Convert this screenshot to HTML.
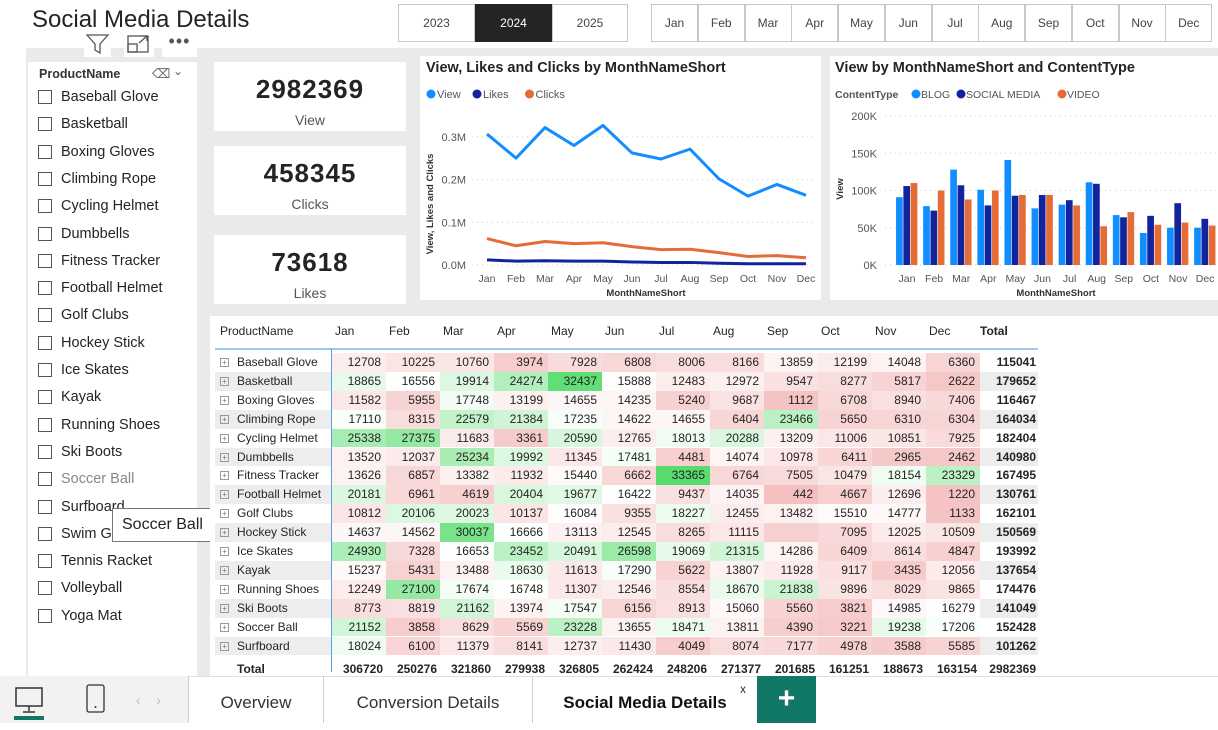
<!DOCTYPE html>
<html><head><meta charset="utf-8">
<style>
*{box-sizing:border-box;margin:0;padding:0}
body{width:1218px;height:723px;position:relative;overflow:hidden;background:#fff;font-family:"Liberation Sans",sans-serif;color:#252423}
.abs{position:absolute}
.btn{position:absolute;top:4px;height:38px;border:1px solid #c8c8c8;background:#fff;font-size:12px;color:#444;display:flex;align-items:center;justify-content:center}
.card{position:absolute;background:#fff}
.slitem{position:absolute;left:10px;font-size:14.5px;color:#252423;display:flex;align-items:center}
.slitem span.cb{width:14px;height:14px;border:1px solid #555;margin-right:9px;display:inline-block}
.kpi{font-size:26px;font-weight:bold;letter-spacing:1px;text-align:center;width:100%;position:absolute;top:12px;color:#252423}
.kpil{font-size:14px;color:#555;text-align:center;width:100%;position:absolute;top:50px}
</style></head><body>
<div class="abs" style="left:26px;top:48px;width:1192px;height:628px;background:#eaeaea"></div>
<div class="abs" style="left:32px;top:6px;font-size:24px;color:#252423">Social Media Details</div>

<div class="btn" style="left:398px;width:77px">2023</div>
<div class="btn" style="left:475px;width:77px;background:#252423;color:#fff;border-color:#252423">2024</div>
<div class="btn" style="left:552px;width:76px">2025</div>
<div id="months"></div>

<div class="abs" style="left:84px;top:31px;width:27px;height:26px;background:#fff">
<svg width="27" height="26"><path d="M3 4 H24 L16 13 V22 L11 19 V13 Z" fill="none" stroke="#555" stroke-width="1.3"/></svg></div>
<div class="abs" style="left:124px;top:31px;width:30px;height:26px;background:#fff">
<svg width="30" height="26"><rect x="4" y="5" width="20" height="16" fill="none" stroke="#555" stroke-width="1.3"/><rect x="4" y="13" width="9" height="8" fill="none" stroke="#555" stroke-width="1.3"/><path d="M15 12 L23 5 M18 5 H23 V10" fill="none" stroke="#555" stroke-width="1.3"/></svg></div>
<div class="abs" style="left:162px;top:31px;width:35px;height:26px;background:#fff;font-size:18px;color:#555;text-align:center;line-height:20px;letter-spacing:1px">•••</div>

<div class="card" style="left:28px;top:62px;width:169px;height:614px">
<div class="abs" style="left:11px;top:5px;font-size:12.5px;font-weight:bold;color:#333">ProductName</div>
<div class="abs" style="left:124px;top:4px;font-size:13px;color:#666">⌫</div>
<div class="abs" style="left:145px;top:2px;font-size:12px;color:#666">⌄</div>
<div id="slitems"></div>
</div>
<div class="abs" style="left:112px;top:508px;width:108px;height:34px;background:#fff;border:1px solid #777;font-size:16px;line-height:32px;padding-left:9px;color:#252423">Soccer Ball</div>

<div class="card" style="left:214px;top:62px;width:192px;height:69px"><div class="kpi">2982369</div><div class="kpil" style="top:50px">View</div></div>
<div class="card" style="left:214px;top:146px;width:192px;height:69px"><div class="kpi">458345</div><div class="kpil">Clicks</div></div>
<div class="card" style="left:214px;top:235px;width:192px;height:69px"><div class="kpi">73618</div><div class="kpil">Likes</div></div>

<div class="card" style="left:420px;top:56px;width:401px;height:244px">
<svg id="line" width="401" height="244"></svg></div>
<div class="card" style="left:830px;top:56px;width:388px;height:244px">
<svg id="bar" width="388" height="244"></svg></div>

<div class="card" style="left:210px;top:316px;width:1008px;height:360px">
<div id="matrix" class="abs" style="left:5px;top:4px"></div></div>

<div class="abs" style="left:0;top:676px;width:1218px;height:47px;background:#fff;border-top:1px solid #e1dfdd"></div>
<div class="abs" style="left:0;top:676px;width:188px;height:47px;background:#f3f2f1"></div>
<div class="abs" style="left:14px;top:686px"><svg width="30" height="34"><rect x="2" y="2" width="26" height="18" fill="none" stroke="#333" stroke-width="1.5"/><path d="M15 20 V25 M9 26 H21" stroke="#333" stroke-width="1.5"/><rect x="-1" y="30" width="34" height="4" rx="2" fill="#117865"/></svg></div>
<div class="abs" style="left:86px;top:684px"><svg width="20" height="30"><rect x="1" y="1" width="17" height="27" rx="2" fill="none" stroke="#333" stroke-width="1.3"/><circle cx="9.5" cy="23" r="1" fill="#333"/></svg></div>
<div class="abs" style="left:136px;top:692px;color:#bbb;font-size:14px">‹&nbsp;&nbsp;&nbsp;&nbsp;›</div>
<div class="abs" style="left:188px;top:676px;width:135px;height:47px;border-left:1px solid #d0d0d0;font-size:17px;text-align:center;line-height:54px;color:#333">Overview</div>
<div class="abs" style="left:323px;top:676px;width:209px;height:47px;border-left:1px solid #d0d0d0;font-size:17px;text-align:center;line-height:54px;color:#333">Conversion Details</div>
<div class="abs" style="left:532px;top:676px;width:225px;height:47px;border-left:1px solid #d0d0d0;font-size:17px;text-align:center;line-height:54px;color:#111;font-weight:bold">Social Media Details</div>
<div class="abs" style="left:740px;top:682px;font-size:12px;color:#333">x</div>
<div class="abs" style="left:757px;top:676px;width:59px;height:47px;background:#117865;color:#fff;font-size:30px;font-weight:bold;text-align:center;line-height:46px">+</div>

<script>
const NS='http://www.w3.org/2000/svg';
const months=['Jan','Feb','Mar','Apr','May','Jun','Jul','Aug','Sep','Oct','Nov','Dec'];
const products=['Baseball Glove','Basketball','Boxing Gloves','Climbing Rope','Cycling Helmet','Dumbbells','Fitness Tracker','Football Helmet','Golf Clubs','Hockey Stick','Ice Skates','Kayak','Running Shoes','Ski Boots','Soccer Ball','Surfboard','Swim Goggles','Tennis Racket','Volleyball','Yoga Mat'];
const viewSeries=[306720,250276,321860,279938,326805,262424,248206,271377,201685,161251,188673,163154];
const clicksSeries=[62000,45000,55000,50000,52000,43000,36000,37000,29000,20000,22000,17000];
const likesSeries=[12000,9000,10000,9000,9000,7000,6000,6000,4000,3000,3000,3000];
const lineTicks=['0.0M','0.1M','0.2M','0.3M'];
const blogViews=[91000,79000,128000,101000,141000,76000,81000,111000,67000,43000,50000,50000];
const socialViews=[106000,73000,107000,80000,93000,94000,87000,109000,64000,66000,83000,62000];
const videoViews=[110000,100000,88000,100000,94000,94000,80000,52000,71000,54000,57000,53000];
const barTicks=['0K','50K','100K','150K','200K'];
const tableRows=['Baseball Glove','Basketball','Boxing Gloves','Climbing Rope','Cycling Helmet','Dumbbells','Fitness Tracker','Football Helmet','Golf Clubs','Hockey Stick','Ice Skates','Kayak','Running Shoes','Ski Boots','Soccer Ball','Surfboard'];
const tableValues=[
[12708,10225,10760,3974,7928,6808,8006,8166,13859,12199,14048,6360],
[18865,16556,19914,24274,32437,15888,12483,12972,9547,8277,5817,2622],
[11582,5955,17748,13199,14655,14235,5240,9687,1112,6708,8940,7406],
[17110,8315,22579,21384,17235,14622,14655,6404,23466,5650,6310,6304],
[25338,27375,11683,3361,20590,12765,18013,20288,13209,11006,10851,7925],
[13520,12037,25234,19992,11345,17481,4481,14074,10978,6411,2965,2462],
[13626,6857,13382,11932,15440,6662,33365,6764,7505,10479,18154,23329],
[20181,6961,4619,20404,19677,16422,9437,14035,442,4667,12696,1220],
[10812,20106,20023,10137,16084,9355,18227,12455,13482,15510,14777,1133],
[14637,14562,30037,16666,13113,12545,8265,11115,null,7095,12025,10509],
[24930,7328,16653,23452,20491,26598,19069,21315,14286,6409,8614,4847],
[15237,5431,13488,18630,11613,17290,5622,13807,11928,9117,3435,12056],
[12249,27100,17674,16748,11307,12546,8554,18670,21838,9896,8029,9865],
[8773,8819,21162,13974,17547,6156,8913,15060,5560,3821,14985,16279],
[21152,3858,8629,5569,23228,13655,18471,13811,4390,3221,19238,17206],
[18024,6100,11379,8141,12737,11430,4049,8074,7177,4978,3588,5585]];
const rowTotals=[115041,179652,116467,164034,182404,140980,167495,130761,162101,150569,193992,137654,174476,141049,152428,101262];
const colTotals=[306720,250276,321860,279938,326805,262424,248206,271377,201685,161251,188673,163154];
const grandTotal=2982369;

function el(tag,attrs,parent,text){const e=document.createElementNS(NS,tag);for(const k in attrs)e.setAttribute(k,attrs[k]);if(text!==undefined)e.textContent=text;parent.appendChild(e);return e;}

const mb=document.getElementById('months');
months.forEach((m,i)=>{const d=document.createElement('div');d.className='btn';d.style.left=(651+i*46.75)+'px';d.style.width='47px';d.textContent=m;


mb.appendChild(d);});

const sl=document.getElementById('slitems');
products.forEach((p,i)=>{const d=document.createElement('div');d.className='slitem';d.style.top=(27+i*27.3)+'px';
d.innerHTML='<span class="cb"></span><span>'+p+'</span>';if(p==='Soccer Ball')d.style.color='#888';


sl.appendChild(d);});

(function(){const s=document.getElementById('line');
el('text',{x:6,y:16,'font-size':14.5,'font-weight':'bold',fill:'#252423',},s,'View, Likes and Clicks by MonthNameShort');
const leg=[['View','#118dff'],['Likes','#12239e'],['Clicks','#e66c37']];let lx=6;
leg.forEach(l=>{const g=el('g',{},s);el('circle',{cx:lx+5,cy:38,r:4.5,fill:l[1]},g);el('text',{x:lx+11,y:42,'font-size':11,fill:'#555'},g,l[0]);lx+=l[0].length*6.5+20;});
const x0=67,x1=386,y0=209,k=42.7/100000;
const X=i=>x0+(x1-x0)*i/11, Y=v=>y0-v*k;
lineTicks.forEach((t,i)=>{const y=Y(i*100000);el('line',{x1:52,x2:395,y1:y,y2:y,stroke:'#ccc','stroke-dasharray':'1,4'},s);el('text',{x:46,y:y+4,'font-size':11,fill:'#555','text-anchor':'end',},s,t);});
months.forEach((m,i)=>el('text',{x:X(i),y:226,'font-size':10.5,fill:'#555','text-anchor':'middle',},s,m));
el('text',{x:226,y:240,'font-size':9.5,'font-weight':'bold',fill:'#333','text-anchor':'middle',},s,'MonthNameShort');
el('text',{x:0,y:0,'font-size':9.5,'font-weight':'bold',fill:'#333','text-anchor':'middle',transform:'translate(13,148) rotate(-90)',},s,'View, Likes and Clicks');
[[viewSeries,'#118dff','view-line'],[clicksSeries,'#e66c37','clicks-line'],[likesSeries,'#12239e','likes-line']].forEach(([d,c,n])=>{
el('polyline',{points:d.map((v,i)=>X(i)+','+Y(v)).join(' '),fill:'none',stroke:c,'stroke-width':3,'stroke-linejoin':'round',},s);});
})();

(function(){const s=document.getElementById('bar');
el('text',{x:5,y:16,'font-size':14.5,'font-weight':'bold',fill:'#252423',},s,'View by MonthNameShort and ContentType');
el('text',{x:5,y:42,'font-size':10.5,'font-weight':'bold',fill:'#555'},s,'ContentType');
const leg=[['BLOG','#118dff'],['SOCIAL MEDIA','#12239e'],['VIDEO','#e66c37']];let lx=82;
leg.forEach(l=>{const g=el('g',{},s);el('circle',{cx:lx+4,cy:38,r:4.5,fill:l[1]},g);el('text',{x:lx+9,y:42,'font-size':10.5,fill:'#555'},g,l[0]);lx+=l[0].length*7+17;});
const y0=209,k=149/200000,xc0=77,step=27.1,bw=7.3;
const Y=v=>y0-v*k;
barTicks.forEach((t,i)=>{const y=Y(i*50000);el('line',{x1:55,x2:388,y1:y,y2:y,stroke:'#ccc','stroke-dasharray':'1,4'},s);el('text',{x:47,y:y+4,'font-size':11,fill:'#555','text-anchor':'end',},s,t);});
const ser=[[blogViews,'#118dff','blog'],[socialViews,'#12239e','social-media'],[videoViews,'#e66c37','video']];
months.forEach((m,i)=>{const xc=xc0+i*step;
ser.forEach(([d,c,n],j)=>{const r=el('rect',{x:xc-bw*1.5+j*bw,y:Y(d[i]),width:bw-0.6,height:y0-Y(d[i]),fill:c},s);

});
el('text',{x:xc,y:226,'font-size':10.5,fill:'#555','text-anchor':'middle',},s,m);});
el('text',{x:226,y:240,'font-size':9.5,'font-weight':'bold',fill:'#333','text-anchor':'middle',},s,'MonthNameShort');
el('text',{x:0,y:0,'font-size':9.5,'font-weight':'bold',fill:'#333','text-anchor':'middle',transform:'translate(13,133) rotate(-90)',},s,'View');
})();

(function(){
const mid=16500,max=33365;
function col(v){if(v===null)return '#f6d0d0';
function mix(a,b,t){return 'rgb('+a.map((c,i)=>Math.round(c+(b[i]-c)*t)).join(',')+')';}
if(v<mid)return mix([255,255,255],[244,192,192],Math.min(1,Math.pow((mid-v)/(mid-400),0.9)));
return mix([255,255,255],[88,220,110],Math.min(1,(v-mid)/(max-mid)));}
const H=18.9;
let h='<div style="position:relative;width:1003px;height:352px;font-size:12px">';
h+='<div style="position:absolute;left:5px;top:4px">ProductName</div>';
months.forEach((m,i)=>{h+='<div style="position:absolute;left:'+(117+i*54+3)+'px;top:4px">'+m+'</div>';});
h+='<div style="position:absolute;left:765px;top:4px;font-weight:bold">Total</div>';
h+='<div style="position:absolute;left:0;top:28px;width:823px;height:2px;background:#9cc7f0"></div>';
h+='<div style="position:absolute;left:116px;top:29px;width:1px;height:323px;background:#5a9ee8"></div>';
tableRows.forEach((p,r)=>{const top=33+r*H;const bg=r%2?'#ededed':'#fff';
h+='<div style="position:absolute;left:0;top:'+top+'px;width:116px;height:'+H+'px;background:'+bg+';line-height:'+H+'px;padding-left:22px;white-space:nowrap">'+p+'<span style="position:absolute;left:5px;top:5px;width:9px;height:9px;border:1px solid #999;font-size:8px;line-height:7px;text-align:center;color:#777">+</span></div>';
tableValues[r].forEach((v,c)=>{h+='<div style="position:absolute;left:'+(117+c*54)+'px;top:'+top+'px;width:54px;height:'+H+'px;background:'+col(v)+';text-align:right;padding-right:5px;line-height:'+H+'px">'+(v===null?'':v)+'</div>';});
h+='<div style="position:absolute;left:765px;top:'+top+'px;width:58px;height:'+H+'px;background:'+bg+';text-align:right;padding-right:2px;font-weight:bold;line-height:'+H+'px">'+rowTotals[r]+'</div>';});
const tt=33+16*H+3;
h+='<div style="position:absolute;left:22px;top:'+(tt+4)+'px;font-weight:bold">Total</div>';
colTotals.forEach((v,c)=>{h+='<div style="position:absolute;left:'+(117+c*54)+'px;top:'+(tt+4)+'px;width:54px;text-align:right;padding-right:3px;font-weight:bold">'+v+'</div>';});
h+='<div style="position:absolute;left:765px;top:'+(tt+4)+'px;width:58px;text-align:right;padding-right:2px;font-weight:bold">'+grandTotal+'</div>';
h+='</div>';
const m=document.getElementById('matrix');m.innerHTML=h;


})();
</script>
</body></html>
